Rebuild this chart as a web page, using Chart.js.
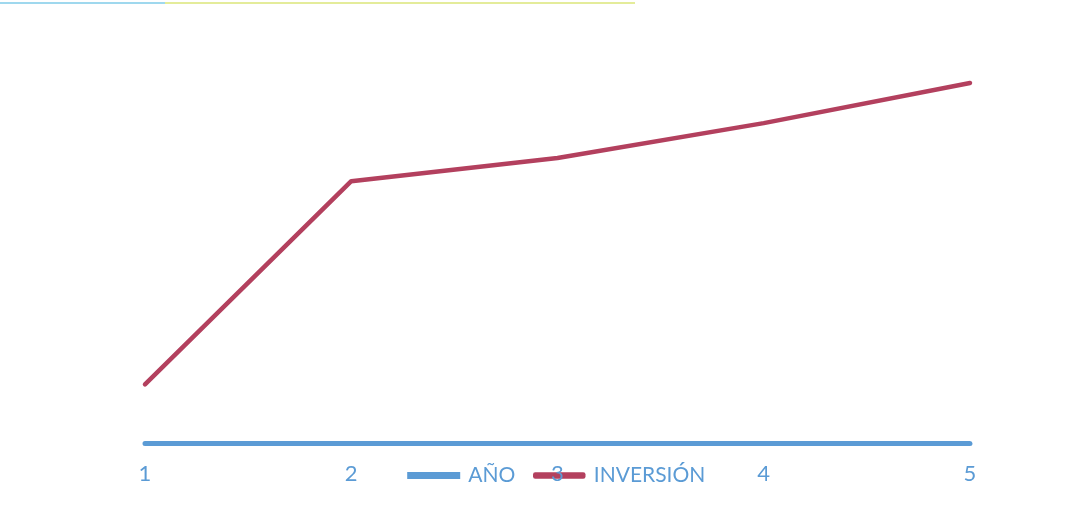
<!DOCTYPE html>
<html>
<head>
<meta charset="utf-8">
<script src="https://cdn.jsdelivr.net/npm/chart.js@4"></script>
<style>
  html, body { margin: 0; padding: 0; background: #ffffff; }
  #wrap { position: relative; width: 1077px; height: 513px; }
  .rule { position: absolute; top: 2px; height: 2px; }
</style>
</head>
<body>
<div id="wrap">
  <div class="rule" style="left:0; width:165px; background:#9fd8ee;"></div>
  <div class="rule" style="left:165px; width:470px; background:#e4ec9a;"></div>
  <canvas id="lineChart" width="1077" height="513"></canvas>
</div>
<script>
// chart values
const years = ['1', '2', '3', '4', '5'];
const anio = [1, 2, 3, 4, 5];
const inversion = [1480, 6550, 7130, 8000, 9000];

const blue = '#5b9bd5';
const red = '#b3405e';

// the legend sits on the same row as the x labels, like in the scan
const legendRow = {
    id: 'legendRow',
    beforeDraw(chart) {
        let legend = chart.legend;
        let dy = 445 - legend.top;
        legend.top += dy;
        legend.bottom += dy;
    }
};

function lineChart() {
    let ctx = document.getElementById('lineChart');

    new Chart(ctx, {
        type: 'line',
        data: {
            labels: years,
            datasets: [
                {
                    label: 'AÑO',
                    data: anio,
                    borderColor: blue,
                    backgroundColor: blue,
                    borderWidth: 5,
                    borderCapStyle: 'round',
                    pointRadius: 0,
                    tension: 0,
                    clip: false
                },
                {
                    label: 'INVERSIÓN',
                    data: inversion,
                    borderColor: red,
                    backgroundColor: red,
                    borderWidth: 4.5,
                    borderCapStyle: 'round',
                    borderJoinStyle: 'round',
                    pointRadius: 0,
                    tension: 0,
                    clip: false
                }
            ]
        },
        options: {
            responsive: false,
            animation: false,
            layout: {
                padding: { left: 145, right: 107, top: 0, bottom: 9 }
            },
            plugins: {
                legend: {
                    display: true,
                    position: 'top',
                    labels: {
                        boxWidth: 48,
                        boxHeight: 2,
                        padding: 20,
                        color: blue,
                        font: { family: 'Lato', size: 21 }
                    }
                },
                tooltip: { enabled: false }
            },
            scales: {
                x: {
                    grid: { display: false, drawTicks: false },
                    border: { display: false },
                    ticks: {
                        color: blue,
                        padding: 17,
                        font: { family: 'Lato', size: 22 }
                    }
                },
                y: {
                    display: false,
                    min: 0,
                    max: 9800
                }
            }
        },
        plugins: [legendRow]
    });
}

lineChart();
</script>
</body>
</html>
